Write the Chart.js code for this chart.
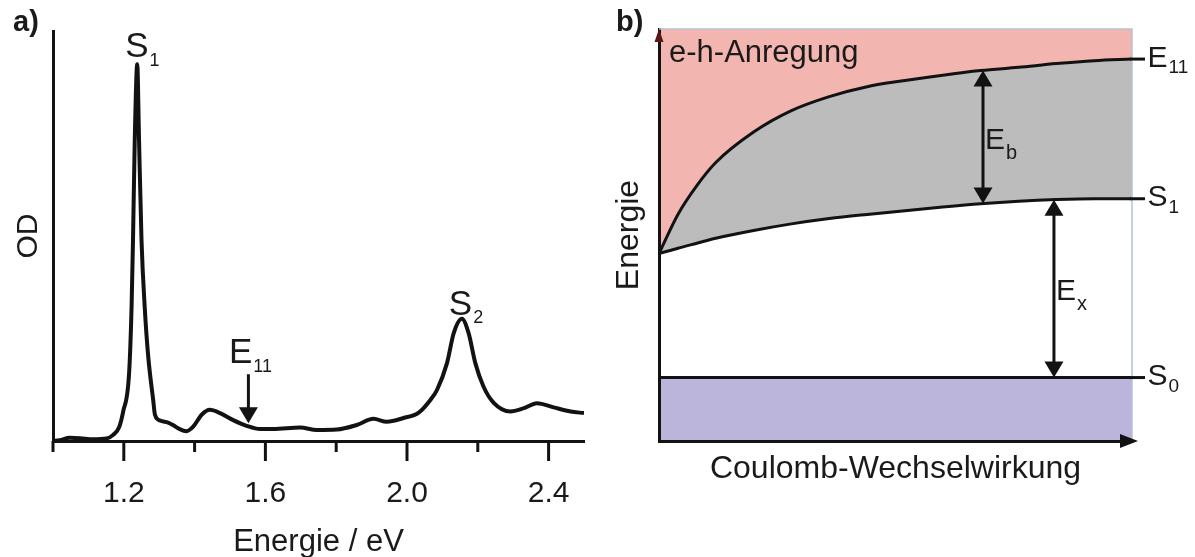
<!DOCTYPE html>
<html>
<head>
<meta charset="utf-8">
<script src="https://cdn.jsdelivr.net/npm/chart.js@4.4.0/dist/chart.umd.min.js"></script>
<style>
html,body{margin:0;padding:0;background:#fff;}
#wrap{position:relative;width:1195px;height:557px;overflow:hidden;}
#boxA{position:absolute;left:0;top:0;width:600px;height:557px;}
#boxB{position:absolute;left:600px;top:0;width:595px;height:557px;}
</style>
</head>
<body>
<div id="wrap">
  <div id="boxA"><canvas id="spektrum"></canvas></div>
  <div id="boxB"><canvas id="schema"></canvas></div>
</div>
<script>
// a) Absorptionsspektrum (Werte aus der Abbildung abgelesen)
var energie = [1.000, 1.019, 1.047, 1.076, 1.113, 1.151, 1.170, 1.187, 1.198, 1.215, 1.222, 1.226, 1.231, 1.238,
               1.243, 1.250, 1.259, 1.269, 1.283, 1.288, 1.302, 1.325, 1.339, 1.358, 1.377, 1.396, 1.420, 1.443,
               1.472, 1.509, 1.547, 1.585, 1.622, 1.698, 1.745, 1.802, 1.858, 1.905, 1.943, 1.990, 2.033, 2.066,
               2.085, 2.113, 2.132, 2.155, 2.174, 2.193, 2.216, 2.245, 2.292, 2.330, 2.367, 2.414, 2.462, 2.500];
var od      = [0.000, 0.002, 0.008, 0.007, 0.004, 0.006, 0.015, 0.034, 0.071, 0.166, 0.328, 0.491, 0.736, 0.919,
               0.736, 0.491, 0.328, 0.206, 0.100, 0.064, 0.050, 0.045, 0.039, 0.029, 0.024, 0.035, 0.064, 0.076,
               0.068, 0.051, 0.037, 0.029, 0.029, 0.033, 0.027, 0.028, 0.039, 0.054, 0.047, 0.056, 0.069, 0.100,
               0.125, 0.190, 0.263, 0.298, 0.263, 0.190, 0.133, 0.093, 0.072, 0.080, 0.092, 0.082, 0.072, 0.068];
var tickWerte = [1.0, 1.2, 1.4, 1.6, 1.8, 2.0, 2.2, 2.4];
var tickLabels = [1.2, 1.6, 2.0, 2.4];
var s1Energie = 1.238, s2Energie = 2.155, e11Energie = 1.552;

// b) Schema: Energie gegen Coulomb-Wechselwirkung
var kopplung = [0, 0.04, 0.08, 0.12, 0.20, 0.28, 0.36, 0.44, 0.52, 0.60, 0.68, 0.76, 0.84, 0.92, 1.0];
var e11Kurve = [0.455, 0.550, 0.620, 0.676, 0.750, 0.802, 0.836, 0.860, 0.875, 0.888, 0.899, 0.907, 0.916, 0.923, 0.927];
var s1Kurve  = [0.455, 0.468, 0.480, 0.492, 0.511, 0.527, 0.540, 0.550, 0.559, 0.568, 0.576, 0.582, 0.586, 0.588, 0.588];
var s0X = [0, 1];
var s0Kurve = [0.154, 0.154];
var ebPos = 0.685, exPos = 0.835;

var schrift = '"Liberation Sans", Arial, Helvetica, sans-serif';
var schwarz = '#121212';
Chart.defaults.font.family = schrift;
Chart.defaults.color = '#1a1a1a';

function punkte(xs, ys) { return xs.map(function (v, i) { return {x: v, y: ys[i]}; }); }
function interp(xs, ys, x) {
  for (var i = 1; i < xs.length; i++) {
    if (x <= xs[i]) { var t = (x - xs[i - 1]) / (xs[i] - xs[i - 1]); return ys[i - 1] + t * (ys[i] - ys[i - 1]); }
  }
  return ys[ys.length - 1];
}
function istLabel(v) { return tickLabels.some(function (t) { return Math.abs(t - v) < 1e-6; }); }

function indexText(ctx, haupt, index, x, y, gr, grIdx, dy) {
  ctx.textAlign = 'left'; ctx.textBaseline = 'alphabetic'; ctx.fillStyle = '#1a1a1a';
  ctx.font = gr + 'px ' + schrift;
  ctx.fillText(haupt, x, y);
  var w = ctx.measureText(haupt).width;
  ctx.font = grIdx + 'px ' + schrift;
  ctx.fillText(index, x + w + 1, y + dy);
}
function spitze(ctx, x, y, breite, laenge, richtung) {
  // richtung 1: nach unten zeigend, -1: nach oben
  ctx.beginPath();
  ctx.moveTo(x, y);
  ctx.lineTo(x - breite / 2, y - richtung * laenge);
  ctx.lineTo(x + breite / 2, y - richtung * laenge);
  ctx.closePath(); ctx.fill();
}
function doppelPfeil(ctx, x, yOben, yUnten) {
  ctx.strokeStyle = schwarz; ctx.fillStyle = schwarz; ctx.lineWidth = 3;
  ctx.beginPath(); ctx.moveTo(x, yOben + 10); ctx.lineTo(x, yUnten - 10); ctx.stroke();
  spitze(ctx, x, yOben, 19, 16, -1);
  spitze(ctx, x, yUnten, 19, 16, 1);
}

var spektrumDeko = {
  id: 'spektrumDeko',
  afterDraw: function (chart) {
    var ctx = chart.ctx, ca = chart.chartArea, x = chart.scales.x, y = chart.scales.y;
    ctx.save();
    ctx.strokeStyle = schwarz; ctx.lineWidth = 3;
    tickWerte.forEach(function (v) {
      var px = x.getPixelForValue(v);
      ctx.beginPath(); ctx.moveTo(px, ca.bottom); ctx.lineTo(px, ca.bottom + (istLabel(v) ? 20 : 11)); ctx.stroke();
    });
    // S1 / S2
    var p1x = x.getPixelForValue(s1Energie), p1y = y.getPixelForValue(interp(energie, od, s1Energie));
    indexText(ctx, 'S', '1', p1x - 12, p1y - 7, 35, 18, 8.5);
    var p2x = x.getPixelForValue(s2Energie), p2y = y.getPixelForValue(interp(energie, od, s2Energie));
    indexText(ctx, 'S', '2', p2x - 13, p2y - 4, 35, 18, 8);
    // E11 Pfeil
    var ex = x.getPixelForValue(e11Energie), ey = y.getPixelForValue(interp(energie, od, e11Energie)) - 3;
    ctx.fillStyle = schwarz; ctx.lineWidth = 3;
    ctx.beginPath(); ctx.moveTo(ex, ey - 49); ctx.lineTo(ex, ey - 10); ctx.stroke();
    spitze(ctx, ex, ey, 19, 16, 1);
    indexText(ctx, 'E', '11', ex - 19.5, ey - 60, 35, 18, 8.5);
    // a)
    ctx.font = 'bold 29px ' + schrift; ctx.fillStyle = '#1a1a1a'; ctx.textAlign = 'left';
    ctx.fillText('a)', 13, 31);
    ctx.restore();
  }
};

new Chart(document.getElementById('spektrum'), {
  type: 'line',
  data: { datasets: [{ data: punkte(energie, od), borderColor: schwarz, borderWidth: 4,
    pointRadius: 0, fill: false, cubicInterpolationMode: 'monotone' }] },
  options: {
    responsive: true, maintainAspectRatio: false, animation: false,
    layout: { padding: { top: 31, right: 16, left: 0, bottom: 0 } },
    plugins: { legend: { display: false }, tooltip: { enabled: false } },
    scales: {
      x: {
        type: 'linear', min: 1.0, max: 2.5,
        afterBuildTicks: function (s) { s.ticks = tickWerte.map(function (v) { return {value: v}; }); },
        afterFit: function (s) { s.height = 116; s.paddingLeft = 0; s.paddingRight = 0; },
        grid: { display: false, drawTicks: false },
        border: { display: true, color: schwarz, width: 3, z: 1 },
        ticks: { autoSkip: false, maxRotation: 0, padding: 38, color: '#1a1a1a',
          font: { size: 30, lineHeight: 1 },
          callback: function (v) { return istLabel(v) ? v.toFixed(1) : ''; } },
        title: { display: true, text: 'Energie / eV', color: '#1a1a1a',
          font: { size: 31, lineHeight: 1 }, padding: { top: 0, bottom: -1 } }
      },
      y: {
        min: 0, max: 1.0,
        afterFit: function (s) { s.width = 53; },
        grid: { display: false, drawTicks: false },
        border: { display: true, color: schwarz, width: 3, z: 1 },
        ticks: { display: false },
        title: { display: true, text: 'OD', color: '#1a1a1a',
          font: { size: 30, lineHeight: 1 }, padding: { top: 14, bottom: 0 } }
      }
    }
  },
  plugins: [spektrumDeko]
});

var schemaDeko = {
  id: 'schemaDeko',
  afterDraw: function (chart) {
    var ctx = chart.ctx, ca = chart.chartArea, x = chart.scales.x, y = chart.scales.y;
    ctx.save();
    // helle Rahmenlinie oben und rechts
    ctx.strokeStyle = '#b7c4cf'; ctx.lineWidth = 1.5;
    ctx.beginPath(); ctx.moveTo(ca.left, ca.top); ctx.lineTo(ca.right, ca.top); ctx.lineTo(ca.right, ca.bottom - 2); ctx.stroke();
    // Verlaengerung der Niveaus und Beschriftung
    var niveaus = [
      {w: e11Kurve[e11Kurve.length - 1], h: 'E', i: '11'},
      {w: s1Kurve[s1Kurve.length - 1], h: 'S', i: '1'},
      {w: s0Kurve[s0Kurve.length - 1], h: 'S', i: '0'}
    ];
    ctx.strokeStyle = schwarz; ctx.lineWidth = 3;
    niveaus.forEach(function (n) {
      var py = y.getPixelForValue(n.w);
      ctx.beginPath(); ctx.moveTo(ca.right - 2, py); ctx.lineTo(ca.right + 13, py); ctx.stroke();
      indexText(ctx, n.h, n.i, ca.right + 15.5, py + 7.5, 30, 19, 6.5);
    });
    // Eb und Ex
    var bx = x.getPixelForValue(ebPos);
    var bo = y.getPixelForValue(interp(kopplung, e11Kurve, ebPos)), bu = y.getPixelForValue(interp(kopplung, s1Kurve, ebPos));
    doppelPfeil(ctx, bx, bo, bu);
    indexText(ctx, 'E', 'b', bx + 2, (bo + bu) / 2 + 12, 30, 20, 10);
    var xx = x.getPixelForValue(exPos);
    var xo = y.getPixelForValue(interp(kopplung, s1Kurve, exPos)), xu = y.getPixelForValue(s0Kurve[0]);
    doppelPfeil(ctx, xx, xo, xu);
    indexText(ctx, 'E', 'x', xx + 2, (xo + xu) / 2 + 11.5, 30, 20, 10);
    // Achsenpfeile
    ctx.fillStyle = '#5a1616';
    spitze(ctx, ca.left, ca.top, 9, 13, -1);
    ctx.fillStyle = schwarz;
    ctx.beginPath(); ctx.moveTo(ca.right + 6, ca.bottom); ctx.lineTo(ca.right - 12, ca.bottom - 7);
    ctx.lineTo(ca.right - 12, ca.bottom + 7); ctx.closePath(); ctx.fill();
    // Texte
    ctx.fillStyle = '#1a1a1a'; ctx.textAlign = 'left'; ctx.textBaseline = 'alphabetic';
    ctx.font = '31px ' + schrift;
    ctx.fillText('e-h-Anregung', ca.left + 10, ca.top + 33);
    ctx.font = 'bold 29px ' + schrift;
    ctx.fillText('b)', 16, 31);
    ctx.restore();
  }
};

new Chart(document.getElementById('schema'), {
  type: 'line',
  data: { datasets: [
    { data: punkte(kopplung, e11Kurve), borderColor: schwarz, borderWidth: 3, pointRadius: 0,
      fill: 'end', backgroundColor: 'rgb(243,181,176)', cubicInterpolationMode: 'monotone' },
    { data: punkte(kopplung, s1Kurve), borderColor: schwarz, borderWidth: 3, pointRadius: 0,
      fill: '-1', backgroundColor: 'rgb(188,188,188)', cubicInterpolationMode: 'monotone' },
    { data: punkte(s0X, s0Kurve), borderColor: schwarz, borderWidth: 3, pointRadius: 0,
      fill: 'start', backgroundColor: 'rgb(187,181,219)' }
  ] },
  options: {
    responsive: true, maintainAspectRatio: false, animation: false,
    layout: { padding: { top: 29, right: 63, left: 0, bottom: 0 } },
    plugins: { legend: { display: false }, tooltip: { enabled: false } },
    scales: {
      x: {
        type: 'linear', min: 0, max: 1,
        afterFit: function (s) { s.height = 116; },
        grid: { display: false, drawTicks: false },
        border: { display: true, color: schwarz, width: 3, z: 1 },
        ticks: { display: false },
        title: { display: true, text: 'Coulomb-Wechselwirkung', color: '#1a1a1a',
          font: { size: 32, lineHeight: 1 }, padding: { top: 0, bottom: 72 } }
      },
      y: {
        min: 0, max: 1,
        afterFit: function (s) { s.width = 59; },
        grid: { display: false, drawTicks: false },
        border: { display: true, color: schwarz, width: 3, z: 1 },
        ticks: { display: false },
        title: { display: true, text: 'Energie', color: '#1a1a1a',
          font: { size: 32, lineHeight: 1 }, padding: { top: 13, bottom: 0 } }
      }
    }
  },
  plugins: [schemaDeko]
});
</script>
</body>
</html>
